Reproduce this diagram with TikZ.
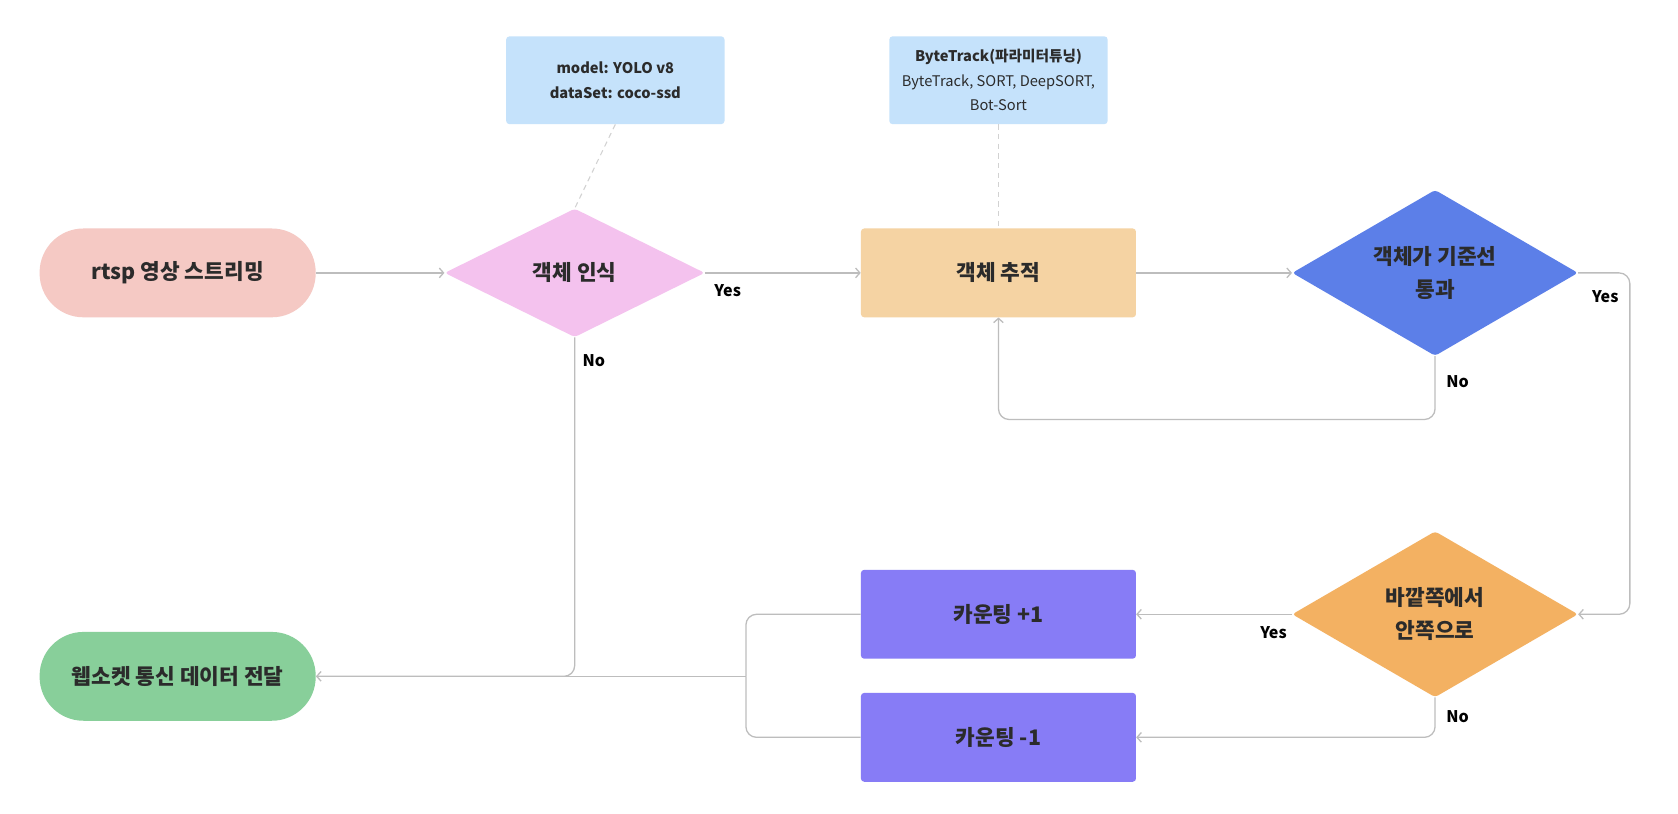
\documentclass[tikz,border=0pt]{standalone}
\usepackage{fontspec}
\setmainfont{Noto Sans CJK KR}
\usetikzlibrary{shapes.geometric,arrows.meta}
\definecolor{txt}{HTML}{2B2B2B}
\definecolor{linec}{HTML}{BDBDBD}
\definecolor{dashc}{HTML}{D2D2D2}
\definecolor{pinkc}{HTML}{F5C9C4}
\definecolor{magc}{HTML}{F4C2EE}
\definecolor{notec}{HTML}{C5E2FB}
\definecolor{trackc}{HTML}{F5D3A3}
\definecolor{bluec}{HTML}{5C7FE8}
\definecolor{orangec}{HTML}{F3B162}
\definecolor{purplec}{HTML}{877CF6}
\definecolor{greenc}{HTML}{88CF9A}
\tikzset{
  mainlbl/.style={font=\fontsize{20}{31}\selectfont\bfseries, text=txt, align=center, inner sep=0pt},
  pill/.style={mainlbl, rounded corners=41pt, minimum width=258pt, minimum height=83pt},
  boxnode/.style={mainlbl, rounded corners=3pt, minimum width=257pt, minimum height=83pt},
  dia/.style={mainlbl, diamond, shape aspect=1.72, rounded corners=3pt},
  notebox/.style={fill=notec, rounded corners=3pt, minimum width=204pt, minimum height=82pt,
     font=\fontsize{13.7}{23}\selectfont, align=center, text=txt, inner sep=0pt},
  lbl/.style={font=\fontsize{15}{18}\selectfont\bfseries, text=black},
  conn/.style={draw=linec, line width=1.2pt, rounded corners=10pt},
  arr/.style={conn, -{Straight Barb[length=4pt,width=9pt]}},
  dashconn/.style={draw=dashc, line width=1pt, dash pattern=on 5pt off 4pt}
}
\begin{document}
\begin{tikzpicture}[x=1pt,y=-1pt]
\useasboundingbox[fill=white] (0,0) rectangle (1568,760);
% nodes
\node[pill, fill=pinkc] (rtsp) at (166,255) {rtsp 영상 스트리밍};
\node[dia, fill=magc, minimum width=243pt, minimum height=120pt] (rec) at (537,255) {객체 인식};
\node[notebox] (note1) at (575,75) {\textbf{model: YOLO v8}\\\textbf{dataSet: coco-ssd}};
\node[notebox] (note2) at (933,75) {\textbf{ByteTrack(파라미터튜닝)}\\ByteTrack, SORT, DeepSORT,\\Bot-Sort};
\node[boxnode, fill=trackc] (track) at (933,255) {객체 추적};
\node[dia, fill=bluec, minimum width=267pt, minimum height=155pt] (cross) at (1341,255) {객체가 기준선\\통과};
\node[dia, fill=orangec, minimum width=267pt, minimum height=155pt] (dir) at (1341,574) {바깥쪽에서\\안쪽으로};
\node[boxnode, fill=purplec] (plus) at (933,574) {카운팅 +1};
\node[boxnode, fill=purplec] (minus) at (933,689) {카운팅 -1};
\node[pill, fill=greenc] (ws) at (166,632) {웹소켓 통신 데이터 전달};
\coordinate (j) at (697,632);
% dashed note links
\draw[dashconn] (note1.south) -- (rec.north);
\draw[dashconn] (note2.south) -- (track.north);
% connectors
\draw[arr] (rtsp.east) -- (rec.west);
\draw[arr] (rec.east) -- (track.west);
\draw[arr] (track.east) -- (cross.west);
\draw[arr] (rec.south) |- (ws.east);
\draw[arr] (cross.east) -- (1523,255) -- (1523,574) -- (dir.east);
\draw[arr] (cross.south) -- (1341,392) -- (933,392) -- (track.south);
\draw[arr] (dir.west) -- (plus.east);
\draw[arr] (dir.south) |- (minus.east);
\draw[conn] (plus.west) -| (j);
\draw[conn] (minus.west) -| (j);
\draw[conn] (j) -- (ws.east);
% labels
\node[lbl] (l1) at (680,272) {Yes};
\node[lbl] (l2) at (555,337) {No};
\node[lbl] (l3) at (1500,277) {Yes};
\node[lbl] (l4) at (1362,357) {No};
\node[lbl] (l5) at (1190,591) {Yes};
\node[lbl] (l6) at (1362,670) {No};
\end{tikzpicture}
\end{document}
